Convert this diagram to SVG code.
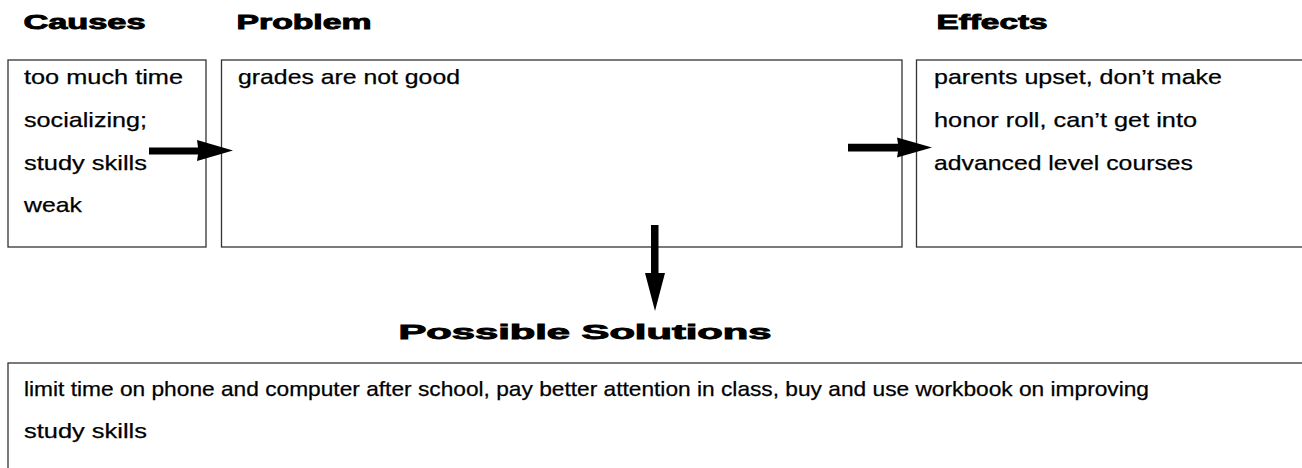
<svg xmlns="http://www.w3.org/2000/svg" width="1302" height="468" viewBox="0 0 1302 468">
  <style>
    .box { fill: #ffffff; stroke: #333333; stroke-width: 1.3; }
    .head { font-family: "Liberation Sans", Arial, sans-serif; font-weight: 900; font-size: 20.5px; fill: #000; stroke: #000; stroke-width: 0.9; }
    .body { font-family: "Liberation Sans", Arial, sans-serif; font-size: 21px; fill: #000; stroke: #000; stroke-width: 0.25; }
    .arrow { fill: #000; }
  </style>
  <rect width="1302" height="468" fill="#ffffff"/>

  <g id="heading-causes"><text class="head" x="23.5" y="29" textLength="122" lengthAdjust="spacingAndGlyphs">Causes</text></g>
  <g id="heading-problem"><text class="head" x="236.5" y="29" textLength="135" lengthAdjust="spacingAndGlyphs">Problem</text></g>
  <g id="heading-effects"><text class="head" x="936.5" y="29" textLength="111" lengthAdjust="spacingAndGlyphs">Effects</text></g>
  <g id="heading-solutions"><text class="head" x="398.5" y="339" textLength="373" lengthAdjust="spacingAndGlyphs">Possible Solutions</text></g>

  <g id="causes">
    <rect class="box" x="8" y="60" width="198" height="187"/>
    <text class="body" x="24" y="84" textLength="159" lengthAdjust="spacingAndGlyphs">too much time</text>
    <text class="body" x="24" y="127" textLength="123" lengthAdjust="spacingAndGlyphs">socializing;</text>
    <text class="body" x="24" y="170" textLength="123" lengthAdjust="spacingAndGlyphs">study skills</text>
    <text class="body" x="24" y="212" textLength="58" lengthAdjust="spacingAndGlyphs">weak</text>
  </g>

  <g id="problem">
    <rect class="box" x="221.5" y="60" width="680.5" height="187"/>
    <text class="body" x="238" y="84" textLength="222" lengthAdjust="spacingAndGlyphs">grades are not good</text>
  </g>

  <g id="effects">
    <rect class="box" x="916.5" y="60" width="400" height="187"/>
    <text class="body" x="934" y="84" textLength="288" lengthAdjust="spacingAndGlyphs">parents upset, don’t make</text>
    <text class="body" x="934" y="127" textLength="263" lengthAdjust="spacingAndGlyphs">honor roll, can’t get into</text>
    <text class="body" x="934" y="170" textLength="259" lengthAdjust="spacingAndGlyphs">advanced level courses</text>
  </g>

  <g id="solutions">
    <rect class="box" x="8" y="363" width="1310" height="120"/>
    <text class="body" x="24" y="396" textLength="1125" lengthAdjust="spacingAndGlyphs">limit time on phone and computer after school, pay better attention in class, buy and use workbook on improving</text>
    <text class="body" x="24" y="438" textLength="123" lengthAdjust="spacingAndGlyphs">study skills</text>
  </g>

  <g id="connectors">
    <polygon class="arrow" points="149,147.5 198,147.5 197,140 233,150.5 197,161 198,154.5 149,154.5"/>
    <polygon class="arrow" points="848,143.7 898,143.7 897,137.5 932,147.5 897,157.5 898,151.5 848,151.5"/>
    <polygon class="arrow" points="651,225 658.5,225 658.5,273 665,273 655,311 645,273 651,273"/>
  </g>
</svg>
